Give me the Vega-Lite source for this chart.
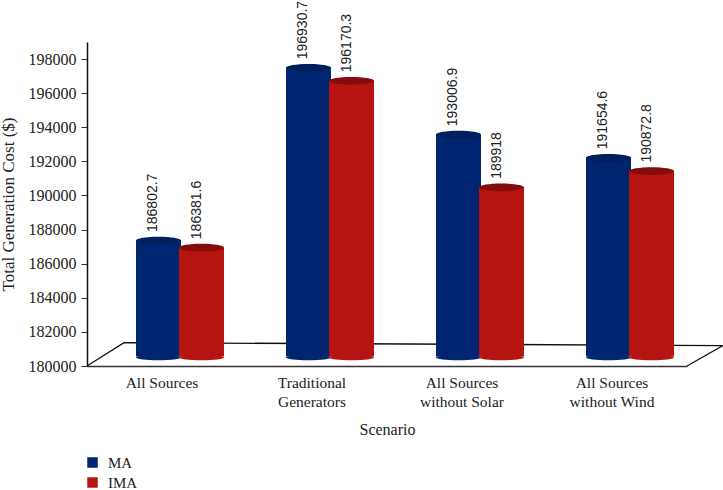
{
  "$schema": "https://vega.github.io/schema/vega-lite/v6.json",
  "width": 600,
  "height": 324,
  "autosize": "none",
  "padding": {"left": 87, "top": 42, "right": 36, "bottom": 124},
  "background": "white",
  "config": {
    "view": {"stroke": null},
    "font": "Liberation Serif",
    "axis": {"labelFont": "Liberation Serif", "titleFont": "Liberation Serif", "labelFontSize": 16, "titleFontSize": 16, "labelColor": "#222", "titleColor": "#222", "titleFontWeight": "normal", "grid": false}
  },
  "data": {"values": [
    {"scenario": "All Sources", "series": "MA", "value": 186802.7},
    {"scenario": "All Sources", "series": "IMA", "value": 186381.6},
    {"scenario": "Traditional Generators", "series": "MA", "value": 196930.7},
    {"scenario": "Traditional Generators", "series": "IMA", "value": 196170.3},
    {"scenario": "All Sources without Solar", "series": "MA", "value": 193006.9},
    {"scenario": "All Sources without Solar", "series": "IMA", "value": 189918},
    {"scenario": "All Sources without Wind", "series": "MA", "value": 191654.6},
    {"scenario": "All Sources without Wind", "series": "IMA", "value": 190872.8}
  ]},
  "encoding": {
    "x": {
      "field": "scenario", "type": "nominal", "sort": null,
      "scale": {"paddingInner": 0, "paddingOuter": 0},
      "axis": null
    },
    "xOffset": {"field": "series", "type": "nominal", "sort": ["MA", "IMA"], "scale": {"paddingOuter": 0.744, "paddingInner": 0, "range": [18, 168]}},
    "y": {
      "field": "value", "type": "quantitative",
      "scale": {"domain": [180000, 199000], "nice": false, "zero": false},
      "axis": {"title": "Total Generation Cost ($)", "titleFontSize": 17, "values": [180000, 182000, 184000, 186000, 188000, 190000, 192000, 194000, 196000, 198000], "format": "d", "tickSize": 6, "tickColor": "#333", "domainColor": "#111", "domainWidth": 1.5, "labelPadding": 5, "titlePadding": 11}
    }
  },
  "layer": [
    {
      "data": {"values": [
        {"fx": 0, "fy": 180000, "step": 1},
        {"fx": 0.0617, "fy": 181370, "step": 2},
        {"fx": 1.06, "fy": 181200, "step": 3},
        {"fx": 1, "fy": 180000, "step": 4}
      ]},
      "mark": {"type": "line", "color": "#111", "strokeWidth": 1.3, "clip": false},
      "encoding": {
        "x": {"field": "fx", "type": "quantitative", "scale": {"domain": [0, 1], "nice": false, "zero": false}, "axis": null},
        "xOffset": {"value": 0},
        "y": {"field": "fy", "type": "quantitative"},
        "order": {"field": "step", "type": "ordinal"}
      }
    },
    {
      "mark": {"type": "bar", "width": 45, "yOffset": -9.5, "y2Offset": -9.5},
      "encoding": {
        "x": {
          "field": "scenario", "type": "nominal", "sort": null,
          "scale": {"paddingInner": 0, "paddingOuter": 0},
          "axis": {
            "title": "Scenario", "orient": "bottom", "labelAngle": 0, "ticks": false, "labelPadding": 9, "titlePadding": 12,
            "domainColor": "#333", "domainWidth": 1.5, "labelLimit": 200, "labelFontSize": 15.5, "labelLineHeight": 19,
            "labelExpr": "{'All Sources':['All Sources'],'Traditional Generators':['Traditional','Generators'],'All Sources without Solar':['All Sources','without Solar'],'All Sources without Wind':['All Sources','without Wind']}[datum.value]"
          }
        },
        "y2": {"datum": 180000},
        "color": {
          "field": "series", "type": "nominal",
          "scale": {"domain": ["MA", "IMA"], "range": ["#002570", "#b51410"]},
          "legend": {"title": null, "orient": "none", "legendX": -2, "legendY": 413, "symbolType": "square", "symbolSize": 110, "labelFont": "Liberation Serif", "labelFontSize": 15, "labelColor": "#222", "rowPadding": 4, "labelOffset": 8}
        }
      }
    },
    {
      "mark": {"type": "point", "filled": true, "opacity": 1, "size": 2025, "yOffset": -8.5, "shape": "M-1,0A1,0.12,0,1,1,1,0A1,0.12,0,1,1,-1,0Z"},
      "encoding": {
        "y": {"datum": 180000},
        "color": {"field": "series", "type": "nominal"}
      }
    },
    {
      "mark": {"type": "point", "filled": true, "opacity": 1, "size": 2025, "yOffset": -9.5, "shape": "M-1,0A1,0.17,0,1,1,1,0A1,0.17,0,1,1,-1,0Z"},
      "encoding": {
        "color": {"condition": {"test": "datum.series === 'MA'", "value": "#00205c"}, "value": "#850c0c"}
      }
    },
    {
      "mark": {"type": "text", "angle": -90, "align": "left", "baseline": "middle", "font": "Liberation Sans", "fontSize": 14, "color": "#222", "dy": -5, "yOffset": -18},
      "encoding": {"text": {"field": "value", "type": "quantitative", "format": ".10~f"}}
    }
  ],
  "resolve": {"scale": {"x": "independent"}}
}
